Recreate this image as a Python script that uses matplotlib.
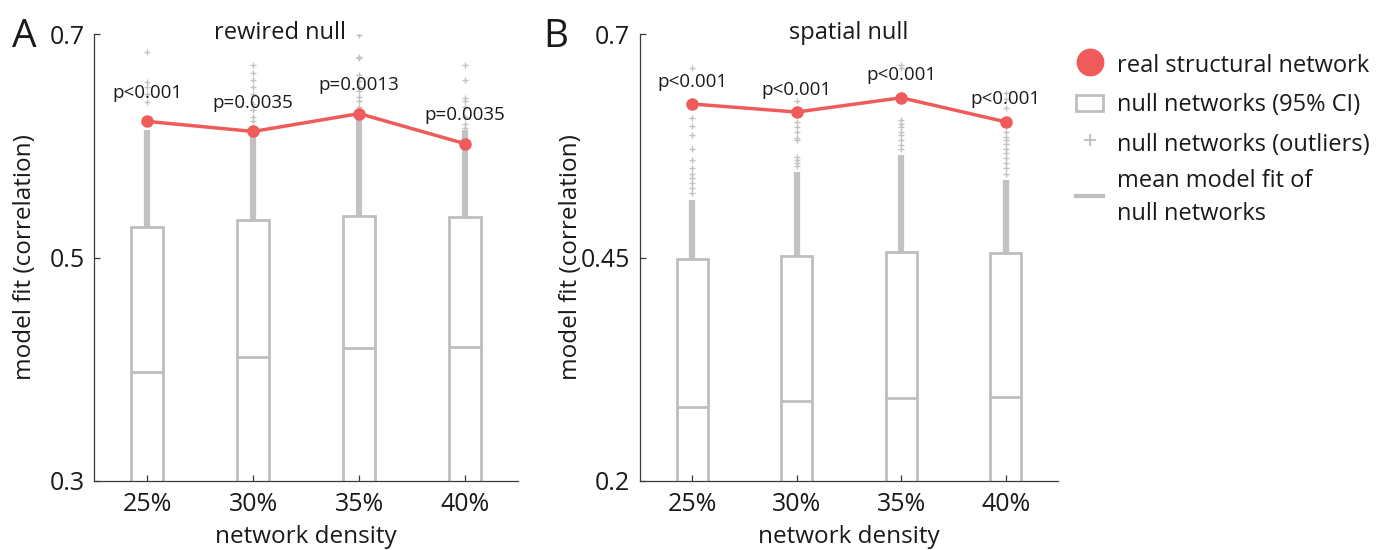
import numpy as np
import matplotlib
matplotlib.use("Agg")
import matplotlib.pyplot as plt
from matplotlib.lines import Line2D
from matplotlib.patches import Patch, Rectangle
from matplotlib.legend_handler import HandlerPatch

plt.rcParams['font.family'] = ['Open Sans', 'DejaVu Sans']

density_labels = ['25%', '30%', '35%', '40%']
real_fit = [0.622, 0.613, 0.629, 0.602]

# rewired null
rewired_box_top = [0.527, 0.534, 0.537, 0.536]
rewired_box_bottom = [0.27, 0.28, 0.285, 0.285]
rewired_mean = [0.397, 0.411, 0.419, 0.420]
rewired_dense_top = [0.614, 0.612, 0.628, 0.614]
rewired_outliers = [
    [0.684, 0.657, 0.653, 0.647, 0.639],
    [0.673, 0.665, 0.659, 0.653, 0.647, 0.638, 0.632, 0.626, 0.622],
    [0.699, 0.680, 0.679, 0.664, 0.658, 0.653, 0.649, 0.644, 0.640, 0.635],
    [0.673, 0.659, 0.643, 0.640, 0.635, 0.626, 0.620, 0.616],
]
rewired_p = ['p<0.001', 'p=0.0035', 'p=0.0013', 'p=0.0035']

# spatial null
spatial_box_top = [0.448, 0.452, 0.456, 0.455]
spatial_box_bottom = [0.12, 0.13, 0.135, 0.135]
spatial_mean = [0.283, 0.289, 0.293, 0.294]
spatial_dense_top = [0.514, 0.546, 0.565, 0.537]
spatial_outliers = [
    [0.662, 0.606, 0.597, 0.587, 0.572, 0.559, 0.550, 0.544, 0.539, 0.533, 0.528, 0.522],
    [0.625, 0.602, 0.596, 0.591, 0.584, 0.582, 0.563, 0.559, 0.556, 0.552],
    [0.666, 0.662, 0.604, 0.600, 0.596, 0.591, 0.587, 0.582, 0.576, 0.572],
    [0.634, 0.628, 0.617, 0.591, 0.585, 0.582, 0.577, 0.572, 0.567, 0.561, 0.556, 0.550, 0.544],
]
spatial_p = ['p<0.001', 'p<0.001', 'p<0.001', 'p<0.001']

RED = '#EF5B5B'
GRAY = '#BEBEBE'
OUT = '#C2C2C2'
AX = '#3A3A3A'
TXT = '#1a1a1a'


def draw_panel(ax, box_top, box_bottom, means, dense_top, outliers, pvals,
               ylim, yticks, ytick_labels, title, title_x, p_offset):
    x = np.arange(1, len(density_labels) + 1)
    w = 0.3
    ax.vlines(x, box_top, dense_top, color=OUT, lw=4.5, zorder=1)
    for xi, vals in zip(x, outliers):
        ax.plot(np.full(len(vals), xi), vals, '+', color=OUT, ms=5, mew=1, zorder=1)
    heights = np.array(box_top) - np.array(box_bottom)
    ax.bar(x, heights, bottom=box_bottom, width=w, fill=False,
           edgecolor=GRAY, linewidth=2, zorder=2)
    ax.hlines(means, x - w / 2, x + w / 2, color=GRAY, lw=2, zorder=2)
    ax.plot(x, real_fit, '-o', color=RED, lw=2.5, ms=8, zorder=4)
    for xi, yi, p in zip(x, real_fit, pvals):
        ax.annotate(p, (xi, yi), xytext=(0, p_offset), textcoords='offset points',
                    ha='center', va='baseline', fontsize=13.5, color=TXT, zorder=5)

    ax.set_xlim(0.5, 4.5)
    ax.set_ylim(*ylim)
    ax.set_xticks(x)
    ax.set_xticklabels(density_labels)
    ax.set_yticks(yticks)
    ax.set_yticklabels(ytick_labels)
    for s in ['top', 'right']:
        ax.spines[s].set_visible(False)
    for s in ['left', 'bottom']:
        ax.spines[s].set_color(AX)
        ax.spines[s].set_linewidth(0.9)
    ax.tick_params(direction='in', length=4, width=0.9, color=AX,
                   labelsize=18, labelcolor=TXT)
    ax.tick_params(axis='x', pad=8)
    ax.tick_params(axis='y', pad=7)
    ax.set_ylabel('model fit (correlation)', fontsize=17.5, color=TXT)
    ax.yaxis.set_label_coords(-0.136, 0.5)
    ax.set_xlabel('network density', fontsize=17.5, color=TXT)
    ax.xaxis.set_label_coords(0.5, -0.1)
    ax.text(title_x, 0.99, title, transform=ax.transAxes, ha='center',
            va='baseline', fontsize=17, color=TXT)


def small_box(legend, orig_handle, xdescent, ydescent, width, height, fontsize):
    return Rectangle((-xdescent, -ydescent + 0.19 * height), width, 0.62 * height)


fig = plt.figure(figsize=(13.85, 5.5), dpi=100)
axA = fig.add_axes([0.0681, 0.126, 0.306, 0.8115])
axB = fig.add_axes([0.4621, 0.126, 0.3018, 0.8115])

draw_panel(axA, rewired_box_top, rewired_box_bottom, rewired_mean,
           rewired_dense_top, rewired_outliers, rewired_p,
           (0.3, 0.7), [0.3, 0.5, 0.7], ['0.3', '0.5', '0.7'],
           'rewired null', 0.438, 17)
draw_panel(axB, spatial_box_top, spatial_box_bottom, spatial_mean,
           spatial_dense_top, spatial_outliers, spatial_p,
           (0.2, 0.7), [0.2, 0.45, 0.7], ['0.2', '0.45', '0.7'],
           'spatial null', 0.5, 12.5)

fig.text(0.0087, 0.915, 'A', fontsize=28, color=TXT, va='baseline')
fig.text(0.392, 0.915, 'B', fontsize=28, color=TXT, va='baseline')

handles = [
    Line2D([], [], color=RED, marker='o', ls='none', ms=19),
    Patch(facecolor='white', edgecolor=GRAY, linewidth=2),
    Line2D([], [], color=OUT, marker='+', ls='none', ms=9, mew=1.5),
    Line2D([], [], color=GRAY, lw=3),
]
labels = ['real structural network', 'null networks (95% CI)',
          'null networks (outliers)', 'mean model fit of\nnull networks']
leg = fig.legend(handles, labels, loc='upper left', bbox_to_anchor=(0.777, 0.907),
                 frameon=False, fontsize=17, handlelength=1.15, handleheight=1.3,
                 handletextpad=0.6, labelspacing=0.53, borderpad=0, borderaxespad=0,
                 labelcolor=TXT,
                 handler_map={Patch: HandlerPatch(patch_func=small_box)})
leg.get_texts()[3].set_linespacing(1.5)

fig.savefig('out.png', dpi=100)
